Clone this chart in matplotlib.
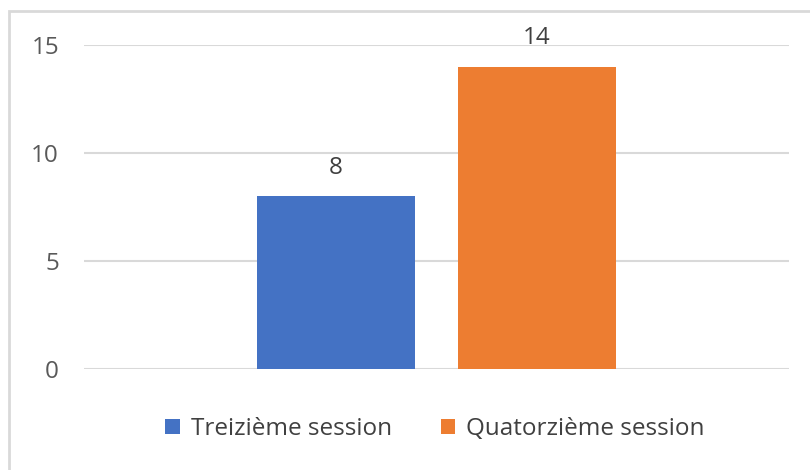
import matplotlib
matplotlib.use("Agg")
import matplotlib.pyplot as plt
from matplotlib.patches import Rectangle

series = ["Treizième session", "Quatorzième session"]
values = [8, 14]
colors = ["#4472C4", "#ED7D31"]
yticks = [0, 5, 10, 15]

plt.rcParams['font.family'] = ['Open Sans', 'DejaVu Sans']

W, H = 810, 470
fig = plt.figure(figsize=(W/100, H/100), dpi=100)
fig.patch.set_facecolor("white")

# outer frame (only top/left visible in reference)
fig.add_artist(Rectangle((9/W, -0.05), 1.1, (H-11)/H + 0.05, transform=fig.transFigure,
                         fill=False, edgecolor="#D9D9D9", linewidth=2))

ax = fig.add_axes([84/W, 1-369/H, (789-84)/W, (369-45)/H])
ax.set_xlim(-1, 1)
ax.set_ylim(0, 15)

offsets = [-0.285, 0.285]
width = 0.448
for s, v, c, o in zip(series, values, colors, offsets):
    ax.bar(o, v, width=width, color=c, label=s, zorder=3)
    ax.text(o, v + 0.75, str(v), ha="center", va="bottom", fontsize=17.5, color="#404040")

ax.set_yticks(yticks)
ax.set_yticklabels([str(t) for t in yticks], fontsize=17.5, color="#595959")
ax.tick_params(axis="y", length=0, pad=18)
ax.set_xticks([])
for sp in ax.spines.values():
    sp.set_visible(False)
ax.grid(axis="y", color="#D9D9D9", linewidth=1.5, zorder=0)
ax.set_facecolor("none")

leg = fig.legend(loc="center", bbox_to_anchor=(435/W, 1-429/H), ncol=2, frameon=False,
                 fontsize=17.5, handlelength=0.6, handleheight=0.6, handletextpad=0.45,
                 columnspacing=2.0)
for t in leg.get_texts():
    t.set_color("#404040")

fig.savefig("out.png", dpi=100, facecolor="white")
